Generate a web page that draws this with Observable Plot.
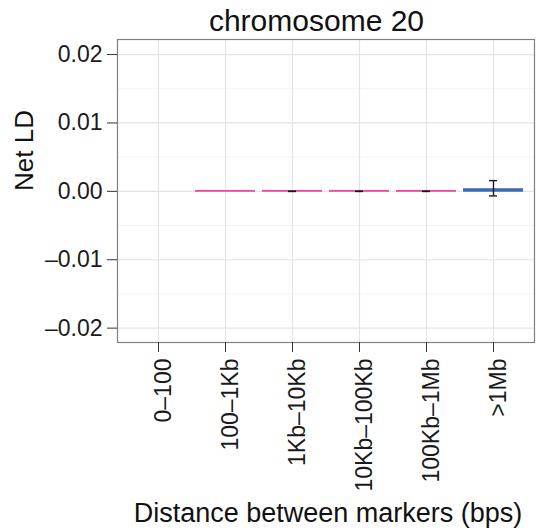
<!DOCTYPE html>
<html>
<head>
<meta charset="utf-8">
<script src="https://cdn.jsdelivr.net/npm/d3@7"></script>
<script src="https://cdn.jsdelivr.net/npm/@observablehq/plot@0.6"></script>
<style>
  body { margin: 0; background: #fff; font-family: "Liberation Sans", Arial, sans-serif; }
  #wrap { width: 536px; height: 531px; overflow: hidden; }
  #title { height: 38px; line-height: 42px; padding-left: 97px; width: 439px; text-align: center;
           font-size: 30px; color: #111; white-space: nowrap; overflow: visible; }
</style>
</head>
<body>
<div id="wrap">
  <div id="title">chromosome 20</div>
  <div id="chart"></div>
</div>
<script>
// ---- data ----
const categories = ["0–100", "100–1Kb", "1Kb–10Kb", "10Kb–100Kb", "100Kb–1Mb", ">1Mb"];
const netLD     = [null, -0.00001, -0.00001, -0.00001, -0.00001, 0.00025];
const errLow    = [null, null, -0.00002, -0.00002, -0.00002, -0.00067];
const errHigh   = [null, null,  0.00002,  0.00002,  0.00002,  0.00157];
const yTicks      = [-0.02, -0.01, 0, 0.01, 0.02];
const yMinorTicks = [-0.015, -0.005, 0.005, 0.015];
const yTitle = "Net LD";
const xTitle = "Distance between markers (bps)";

const rows = categories.map((c, i) => ({cat: c, v: netLD[i], lo: errLow[i], hi: errHigh[i]}));
const barRows = rows.filter(d => d.v != null);
const errRows = rows.filter(d => d.lo != null);

const W = 536, H = 493;
const mL = 117, mR = 2, mT = 1, mB = 189;
const step = (W - mL - mR) / (categories.length - 0.1 + 0.3);
const bw = step * 0.9;
const whisker = 8.5;
const wInset = (bw - whisker) / 2;

const fmt = d => d === 0 ? "0.00" : (d < 0 ? "–" : "") + Math.abs(d).toFixed(2);

const chart = Plot.plot({
  width: W,
  height: H,
  marginLeft: mL,
  marginRight: mR,
  marginTop: mT,
  marginBottom: mB,
  style: {fontFamily: "'Liberation Sans', Arial, sans-serif", fontSize: "22px", color: "#1a1a1a", background: "white", overflow: "visible"},
  x: {type: "band", domain: categories, paddingInner: 0.1, paddingOuter: 0.15, align: 0.5},
  y: {domain: [-0.0221, 0.0222]},
  color: {domain: ["neg", "pos"], range: ["#EE4C9C", "#3C6BB3"]},
  marks: [
    Plot.ruleY(yMinorTicks, {stroke: "#F3F3F3", strokeWidth: 1}),
    Plot.gridY({ticks: yTicks, stroke: "#E4E4E4", strokeOpacity: 1, strokeWidth: 1.2}),
    Plot.gridX({stroke: "#E4E4E4", strokeOpacity: 1, strokeWidth: 1.2}),
    Plot.barY(barRows, {x: "cat", y: "v",
      fill: d => d.v < 0 ? "neg" : "pos", stroke: d => d.v < 0 ? "neg" : "pos",
      strokeWidth: 1.8, insetLeft: 0.9, insetRight: 0.9}),
    Plot.ruleX(errRows, {x: "cat", y1: "lo", y2: "hi", stroke: "#1a1a1a", strokeWidth: 1.4}),
    Plot.tickY(errRows, {x: "cat", y: "lo", stroke: "#1a1a1a", strokeWidth: 1.4, insetLeft: wInset, insetRight: wInset}),
    Plot.tickY(errRows, {x: "cat", y: "hi", stroke: "#1a1a1a", strokeWidth: 1.4, insetLeft: wInset, insetRight: wInset}),
    Plot.frame({stroke: "#808080", strokeWidth: 1.2}),
    Plot.axisY({ticks: yTicks, tickFormat: fmt, tickSize: 10, tickPadding: 5, fontSize: 23, label: null, stroke: "#333"}),
    Plot.axisX({tickSize: 10, text: null, label: null, stroke: "#333"}),
    Plot.axisX({tickRotate: -90, tickSize: 0, tickPadding: 16, fontSize: 23, label: null, dx: 5}),
    Plot.text([yTitle], {text: d => d, frameAnchor: "left", dx: -93, rotate: -90, fontSize: 26, fill: "#111"}),
    Plot.text([xTitle], {text: d => d, frameAnchor: "bottom", dy: 171, dx: 2, fontSize: 27, lineAnchor: "middle", fill: "#111"})
  ]
});
document.getElementById("chart").appendChild(chart);
</script>
</body>
</html>
